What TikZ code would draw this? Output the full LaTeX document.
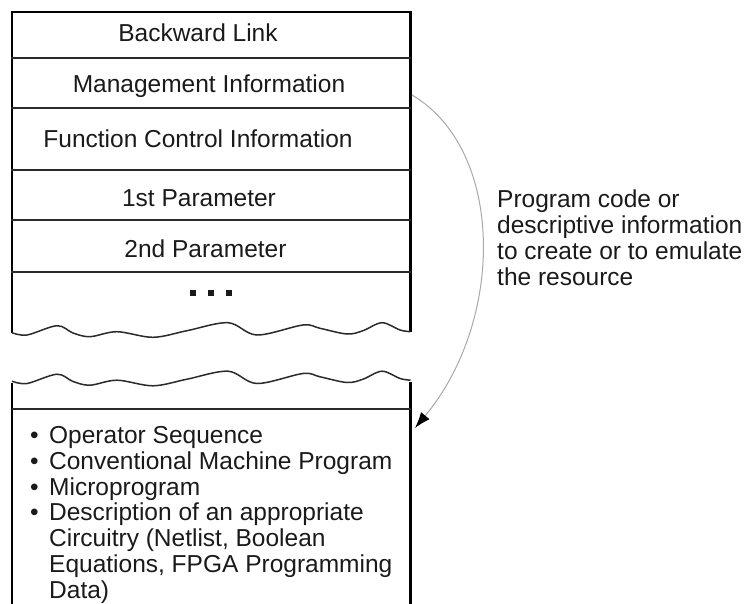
\documentclass[tikz,border=0pt]{standalone}
\usepackage{fontspec}
\setmainfont{Liberation Sans}
\usetikzlibrary{arrows.meta}
\definecolor{ink}{HTML}{1A1A1A}
\definecolor{rule}{HTML}{2A2A2A}
\definecolor{arrowgray}{HTML}{A8A8A8}
\tikzset{
  outer/.style={draw=black, line width=2.2pt},
  inner/.style={draw=rule, line width=1.6pt},
  wave/.style={draw=rule, line width=1.5pt},
  label/.style={text=ink, inner sep=0pt, font=\fontsize{24.5}{25.7}\selectfont},
  link/.style={draw=arrowgray, line width=1pt, -{Latex[length=16pt,width=11pt,black]}},
}
\begin{document}
\begin{tikzpicture}[x=1pt,y=-1pt]
\useasboundingbox (0,0) rectangle (745,604);
% top box
\draw[outer] (12,333) -- (12,12) -- (410.5,12) -- (410.5,332);
\foreach \y in {58,108,170,220,272} \draw[inner] (11,\y) -- (410.5,\y);
\draw[wave] plot[smooth, tension=0.55] coordinates {(12,332.7) (27,335) (57,325.7) (73,333) (90,336.7) (117,331.7) (153,337.3) (187,330.7) (228,322.7) (257,335) (303,325) (320,328.3) (347,334) (363,330.7) (382,322.7) (400,330) (410.5,331.7)};
% bottom box
\draw[wave] plot[smooth, tension=0.55] coordinates {(12,381.2) (27,383.5) (57,374.2) (73,381.5) (90,385.2) (117,380.2) (153,385.8) (187,379.2) (228,371.2) (257,383.5) (303,373.5) (320,376.8) (347,382.5) (363,379.2) (382,371.2) (400,378.5) (410.5,380.2)};
\draw[outer] (12,383) -- (12,606);
\draw[outer] (410.5,381.5) -- (410.5,606);
\draw[inner] (12,408.7) -- (410.5,408.7);
% row texts
\node[label, anchor=base] (bl) at (198,42) {Backward Link};
\node[label, anchor=base] (mi) at (209,92.5) {Management Information};
\node[label, anchor=base] (fci) at (198,148) {Function Control Information};
\node[label, anchor=base] (p1) at (199,207) {1st Parameter};
\node[label, anchor=base] (p2) at (205.5,258) {2nd Parameter};
\node[inner sep=0pt] (dots) at (211,293) {\tikz[x=1pt,y=1pt]{\fill[ink] (0,0) rectangle (6,6); \fill[ink] (18,0) rectangle (24,6); \fill[ink] (36,0) rectangle (42,6);}};
% list
\node[label, anchor=north west, align=left] (list) at (30,426.5) {%
\makebox[19pt][l]{•}Operator Sequence\\
\makebox[19pt][l]{•}Conventional Machine Program\\
\makebox[19pt][l]{•}Microprogram\\
\makebox[19pt][l]{•}Description of an appropriate\\
\hspace*{19pt}Circuitry (Netlist, Boolean\\
\hspace*{19pt}Equations, FPGA Programming\\
\hspace*{19pt}Data)};
% side text
\node[label, anchor=north west, align=left] (note) at (497,190) {Program code or\\descriptive information\\to create or to emulate\\the resource};
% arrow
\coordinate (from) at (412,95);
\coordinate (to) at (415,428);
\draw[link] (from) .. controls (505,150) and (505,320) .. (to);
\end{tikzpicture}
\end{document}
